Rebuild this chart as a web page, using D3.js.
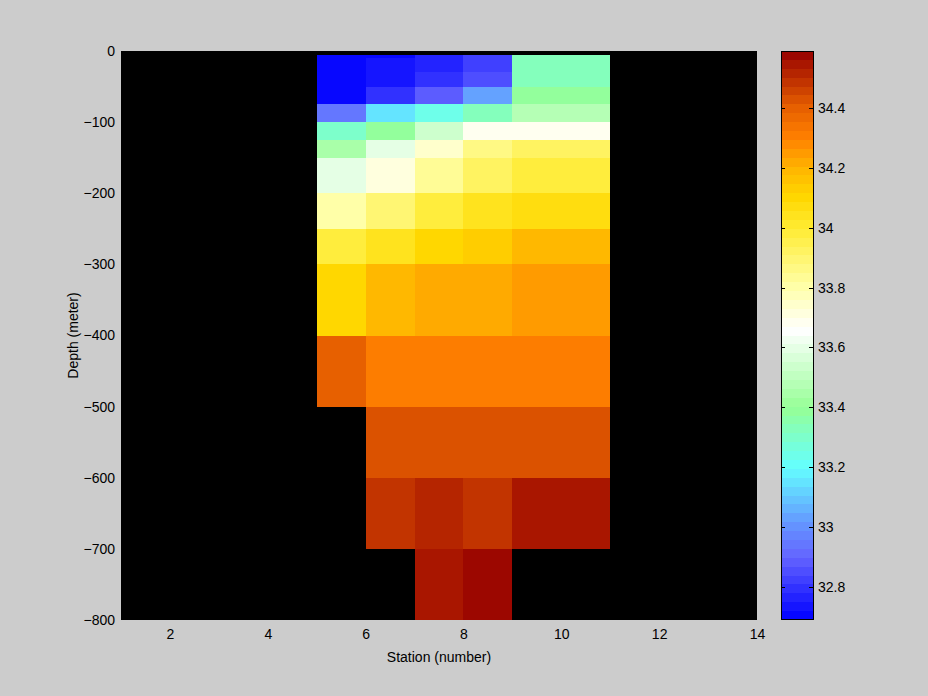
<!DOCTYPE html>
<html><head><meta charset="utf-8">
<script src="https://cdn.jsdelivr.net/npm/d3@7"></script>
<style>html,body{margin:0;padding:0;background:#cccccc;} svg{display:block}</style>
</head><body>
<script>
// ---- data ----
const stationEdges = [5, 6, 7, 8, 9, 11];
const depthEdges = [-5, -10, -30, -50, -75, -100, -125, -150, -200, -250, -300, -400, -500, -600, -700, -800];
// salinity per station column, one value per depth cell (null = no data)
const salSt5  = [32.69, 32.69, 32.69, 32.69, 32.94, 33.31, 33.45, 33.61, 33.80, 33.99, 34.11, 34.39, null, null, null];
const salSt6  = [32.69, 32.73, 32.73, 32.795, 33.14, 33.40, 33.61, 33.71, 33.88, 34.04, 34.19, 34.30, 34.43, 34.495, null];
const salSt7  = [32.76, 32.76, 32.795, 32.88, 33.24, 33.55, 33.74, 33.83, 33.97, 34.11, 34.21, 34.30, 34.43, 34.53, 34.55];
const salSt8  = [32.82, 32.82, 32.85, 33.03, 33.34, 33.69, 33.85, 33.92, 34.05, 34.14, 34.21, 34.30, 34.43, 34.50, 34.59];
const salSt9  = [33.34, 33.34, 33.34, 33.38, 33.47, 33.69, 33.92, 33.99, 34.08, 34.19, 34.24, 34.30, 34.43, 34.56, null];
const salinityColumns = [salSt5, salSt6, salSt7, salSt8, salSt9];
const xTicks = [2, 4, 6, 8, 10, 12, 14];
const yTicks = [0, -100, -200, -300, -400, -500, -600, -700, -800];
const cTicks = [32.8, 33.0, 33.2, 33.4, 33.6, 33.8, 34.0, 34.2, 34.4];
const cRange = [32.69, 34.59];
const nLevels = 64;
// colormap anchors
const cmapValues = [32.69, 32.90, 33.00, 33.20, 33.40, 33.66, 33.80, 34.00, 34.10, 34.20, 34.30, 34.40, 34.59];
const cmapColors = ["rgb(0,0,255)", "rgb(100,100,255)", "rgb(100,145,255)", "rgb(100,255,255)", "rgb(150,255,150)",
  "rgb(255,255,255)", "rgb(255,255,170)", "rgb(255,235,50)", "rgb(255,215,0)", "rgb(255,180,0)", "rgb(255,128,0)",
  "rgb(230,95,0)", "rgb(150,0,0)"];

// ---- drawing ----
const W = 928, H = 696;
const font = "'Liberation Sans', Arial, Helvetica, sans-serif";
const svg = d3.select("body").append("svg").attr("width", W).attr("height", H)
  .style("font-family", font).style("font-size", "14px");
svg.append("rect").attr("width", W).attr("height", H).attr("fill", "#cccccc");

const x = d3.scaleLinear().domain([1, 14]).range([121, 757]);
const y = d3.scaleLinear().domain([0, -800]).range([51, 620]);
const cmap = d3.scaleLinear().domain(cmapValues).range(cmapColors).interpolate(d3.interpolateRgb).clamp(true);
const step = (cRange[1] - cRange[0]) / nLevels;
function levelOf(v) {
  return Math.max(0, Math.min(nLevels - 1, Math.floor((v - cRange[0]) / step)));
}
function colorOf(v) {
  return cmap(cRange[0] + (levelOf(v) + 0.5) * step);
}

// axes background
svg.append("rect").attr("x", x(1)).attr("y", y(0)).attr("width", x(14) - x(1)).attr("height", y(-800) - y(0))
  .attr("fill", "#000");

// cells
const cells = [];
salinityColumns.forEach((col, j) => {
  col.forEach((v, i) => {
    if (v !== null) cells.push({x0: stationEdges[j], x1: stationEdges[j + 1], y0: depthEdges[i], y1: depthEdges[i + 1], v});
  });
});
svg.append("g").attr("shape-rendering", "crispEdges").selectAll("rect").data(cells).join("rect")
  .attr("x", d => x(d.x0)).attr("y", d => y(d.y0))
  .attr("width", d => x(d.x1) - x(d.x0)).attr("height", d => y(d.y1) - y(d.y0))
  .attr("fill", d => colorOf(d.v));

// axes
const xAxis = d3.axisBottom(x).tickValues(xTicks).tickSize(0).tickPadding(9).tickFormat(d3.format("d"));
const gx = svg.append("g").attr("transform", `translate(0,${y(-800)})`).call(xAxis);
gx.select(".domain").remove();
gx.selectAll("text").attr("fill", "#000").style("font-size", "14px").style("font-family", font);

const yAxis = d3.axisLeft(y).tickValues(yTicks).tickSize(0).tickPadding(6).tickFormat(d3.format("d"));
const gy = svg.append("g").attr("transform", `translate(${x(1)},0)`).call(yAxis);
gy.select(".domain").remove();
gy.selectAll("text").attr("fill", "#000").style("font-size", "14px").style("font-family", font);

svg.append("text").attr("x", (x(1) + x(14)) / 2).attr("y", 662).attr("text-anchor", "middle")
  .attr("fill", "#000").text("Station (number)");
svg.append("text").attr("transform", `translate(78,${(y(0) + y(-800)) / 2}) rotate(-90)`)
  .attr("text-anchor", "middle").attr("fill", "#000").text("Depth (meter)");

// colorbar
const cbX0 = 781, cbX1 = 814;
const c = d3.scaleLinear().domain(cRange).range([620, 51]);
const levels = d3.range(nLevels);
svg.append("g").attr("shape-rendering", "crispEdges").selectAll("rect").data(levels).join("rect")
  .attr("x", cbX0).attr("width", cbX1 - cbX0)
  .attr("y", k => c(cRange[0] + (k + 1) * step))
  .attr("height", k => c(cRange[0] + k * step) - c(cRange[0] + (k + 1) * step))
  .attr("fill", k => cmap(cRange[0] + (k + 0.5) * step));
svg.append("rect").attr("x", cbX0 + 0.5).attr("y", c(cRange[1]) + 0.5)
  .attr("width", cbX1 - cbX0 - 1).attr("height", c(cRange[0]) - c(cRange[1]) - 1)
  .attr("fill", "none").attr("stroke", "#000").attr("stroke-width", 1);
const cAxis = d3.axisRight(c).tickValues(cTicks).tickSize(0).tickPadding(4).tickFormat(d3.format("~g"));
const gc = svg.append("g").attr("transform", `translate(${cbX1},0)`).call(cAxis);
gc.select(".domain").remove();
gc.selectAll("text").attr("fill", "#000").style("font-size", "14px").style("font-family", font);
const tickG = svg.append("g").attr("stroke", "#000").attr("stroke-width", 1).attr("shape-rendering", "crispEdges");
tickG.selectAll("line.l").data(cTicks).join("line").attr("class", "l")
  .attr("x1", cbX0).attr("x2", cbX0 + 4).attr("y1", d => Math.round(c(d)) + 0.5).attr("y2", d => Math.round(c(d)) + 0.5);
tickG.selectAll("line.r").data(cTicks).join("line").attr("class", "r")
  .attr("x1", cbX1 - 5).attr("x2", cbX1).attr("y1", d => Math.round(c(d)) + 0.5).attr("y2", d => Math.round(c(d)) + 0.5);
</script>
</body></html>
